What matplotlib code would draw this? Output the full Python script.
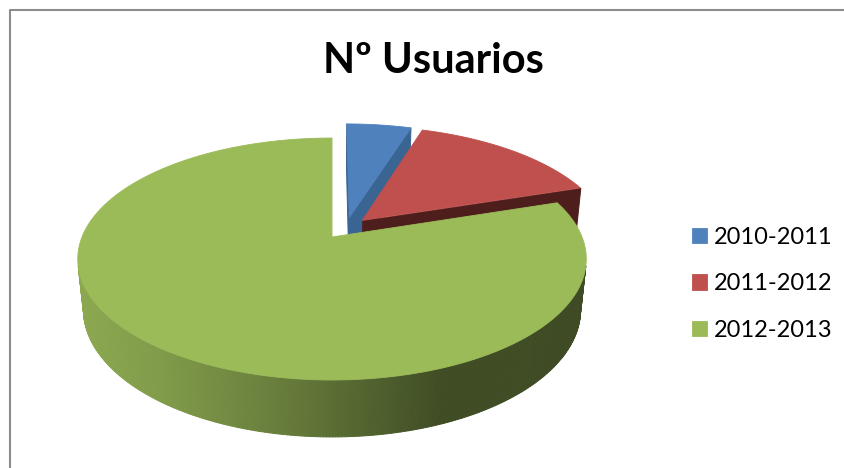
import numpy as np
import matplotlib
matplotlib.use("Agg")
import matplotlib.pyplot as plt
from matplotlib.transforms import Transform
from matplotlib.path import Path
from matplotlib.collections import PolyCollection

# ---------------- data ----------------
title = "Nº Usuarios"
categories = ["2010-2011", "2011-2012", "2012-2013"]
values = [5, 15, 80]
top_colors = ["#4F81BD", "#C0504D", "#9BBB59"]
radial_colors = ["#3A6492", "#4E1E1D", "#5F7536"]

# ---------------- figure ----------------
W, H = 845, 468
fig = plt.figure(figsize=(W / 100, H / 100), dpi=100)
fig.patch.set_facecolor("white")
ax = fig.add_axes([0, 0, 1, 1])

# simple pinhole camera looking down at the pie (pixel output)
CX, CY = 332.0, 237.0
PHI = np.deg2rad(27.9)
DIST = 4.86
FOC = 1215.0
THICK = 0.231
CAM = np.array([0.0, -DIST * np.cos(PHI), DIST * np.sin(PHI)])


def project(X, Y, Z=0.0):
    X = np.asarray(X, float)
    Y = np.asarray(Y, float)
    D = DIST + Y * np.cos(PHI) - Z * np.sin(PHI)
    sx = CX + FOC * X / D
    sy = CY - FOC * (Y * np.sin(PHI) + Z * np.cos(PHI)) / D
    return sx, sy


class Persp(Transform):
    input_dims = output_dims = 2
    is_separable = False
    has_inverse = False

    def __init__(self, z=0.0):
        super().__init__()
        self.z = z

    def transform_non_affine(self, values):
        v = np.asarray(values, float).reshape(-1, 2)
        sx, sy = project(v[:, 0], v[:, 1], self.z)
        return np.column_stack([sx, sy])

    def transform_path_non_affine(self, path):
        t = np.linspace(0, 1, 60)
        pts = [bez(t) for bez, code in path.iter_bezier()]
        pts = np.vstack(pts)
        return Path(self.transform_non_affine(pts), closed=True)


wedges, _ = ax.pie(values, colors=top_colors, startangle=90, counterclock=False,
                   radius=1.0, center=(0.0565, 0.0777), explode=[0.096] * 3,
                   wedgeprops=dict(linewidth=0.6))

# side shading of the cylinder wall by screen x
shade_x = [80, 160, 293, 393, 443, 590]
shade_f = [0.90, 0.83, 0.65, 0.49, 0.41, 0.40]


def side_color(base, x):
    f = np.interp(x, shade_x, shade_f)
    rgb = np.array(matplotlib.colors.to_rgb(base))
    return tuple(np.clip(rgb * f, 0, 1))


for i, w in enumerate(wedges):
    w.set_edgecolor(w.get_facecolor())
    w.set_transform(Persp(0.0) + ax.transData)
    w.set_zorder(2 * i + 2)
    cx, cy = w.center
    r = w.r
    t1, t2 = w.theta1, w.theta2
    polys, cols = [], []
    # outer wall
    th = np.deg2rad(np.linspace(t1, t2, 500))
    px = cx + r * np.cos(th)
    py = cy + r * np.sin(th)
    vis = (CAM[0] - px) * np.cos(th) + (CAM[1] - py) * np.sin(th) > 0
    tx, ty = project(px, py, 0.0)
    bx, by = project(px, py, -THICK)
    for k in range(len(th) - 1):
        if vis[k] and vis[k + 1]:
            polys.append([(tx[k], ty[k]), (tx[k + 1], ty[k + 1]),
                          (bx[k + 1], by[k + 1]), (bx[k], by[k])])
            cols.append(side_color(top_colors[i], 0.5 * (tx[k] + tx[k + 1])))
    # radial faces
    for ang, sgn in ((t1, -1), (t2, 1)):
        a = np.deg2rad(ang)
        nrm = np.array([np.cos(a + sgn * np.pi / 2), np.sin(a + sgn * np.pi / 2)])
        if (CAM[0] - cx) * nrm[0] + (CAM[1] - cy) * nrm[1] > 1e-3:
            ex, ey = cx + r * np.cos(a), cy + r * np.sin(a)
            p0 = project(cx, cy, 0.0)
            p1 = project(ex, ey, 0.0)
            p2 = project(ex, ey, -THICK)
            p3 = project(cx, cy, -THICK)
            polys.append([p0, p1, p2, p3])
            cols.append(radial_colors[i])
    if polys:
        pc = PolyCollection(polys, facecolors=cols, edgecolors=cols,
                            linewidths=0.7, zorder=2 * i + 1)
        ax.add_collection(pc)

ax.set_xlim(0, W)
ax.set_ylim(H, 0)
ax.set_aspect("auto")
ax.axis("off")

# chart border (top and left visible)
ax.plot([10.5, 10.5, W + 5], [H + 5, 9.5, 9.5], color="#8C8C8C", lw=1.5,
        clip_on=False, zorder=10)

# title
ax.text(433, 73, title, ha="center", va="baseline", fontsize=30,
        fontweight="bold", family="Lato", color="black")

# legend
fig.legend(wedges, categories, loc="upper left",
           bbox_to_anchor=(692 / W, 1 - 227 / H), frameon=False,
           prop=dict(family="Lato", size=17), handlelength=0.63,
           handleheight=0.63, handletextpad=0.3, labelspacing=1.08,
           borderpad=0, borderaxespad=0)

fig.savefig("out.png", dpi=100, facecolor="white")
